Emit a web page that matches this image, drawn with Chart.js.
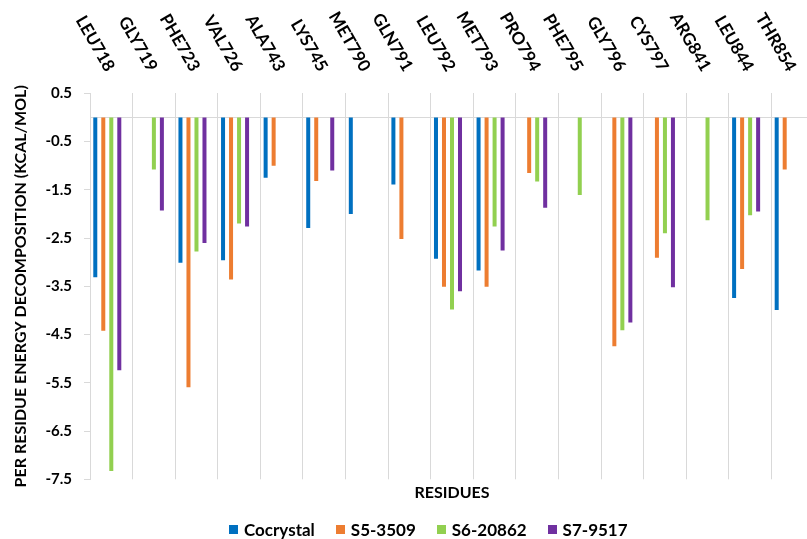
<!DOCTYPE html>
<html>
<head>
<meta charset="utf-8">
<script src="https://cdn.jsdelivr.net/npm/chart.js@4/dist/chart.umd.min.js"></script>
<style>
  html, body { margin: 0; padding: 0; background: #fff; overflow: hidden; width: 807px; height: 539px; }
  #wrap { position: relative; width: 814px; height: 539px; }
  #legend { position: absolute; left: 229px; top: 519px; display: flex; gap: 21px; align-items: center;
            font: bold 17px Lato, "Open Sans", sans-serif; color: #000; white-space: nowrap; }
  #legend .item { display: flex; align-items: center; }
  #legend .sw { width: 9px; height: 9px; margin-right: 6px; }
</style>
</head>
<body>
<div id="wrap">
  <canvas id="c" width="814" height="539"></canvas>
  <div id="legend"></div>
</div>
<script>
// Residues along the binding site
const residues = ['LEU718', 'GLY719', 'PHE723', 'VAL726', 'ALA743', 'LYS745', 'MET790', 'GLN791',
  'LEU792', 'MET793', 'PRO794', 'PHE795', 'GLY796', 'CYS797', 'ARG841', 'LEU844', 'THR854'];

// Per-residue energy contributions (kcal/mol); null = no contribution shown
const cocrystal = [-3.31, null, -3.01, -2.96, -1.25, -2.29, -2.00, -1.39, -2.93, -3.17, null, null, null, null, null, -3.74, -3.99];
const s5_3509   = [-4.42, null, -5.59, -3.36, -1.00, -1.32, null, -2.52, -3.51, -3.51, -1.15, null, -4.74, -2.91, null, -3.14, -1.08];
const s6_20862  = [-7.33, -1.08, -2.78, -2.20, null, null, null, null, -3.98, -2.26, -1.33, -1.61, -4.41, -2.40, -2.13, -2.03, null];
const s7_9517   = [-5.24, -1.93, -2.60, -2.26, null, -1.10, null, null, -3.60, -2.76, -1.87, null, -4.25, -3.52, null, -1.95, null];

const seriesNames  = ['Cocrystal', 'S5-3509', 'S6-20862', 'S7-9517'];
const seriesValues = [cocrystal, s5_3509, s6_20862, s7_9517];
const seriesColors = ['#0070C0', '#ED7D31', '#92D050', '#7030A0'];

// Value axis range
const yMin = -7.5, yMax = 0.5, yStep = 1;

const FONT = 'Lato, "Open Sans", sans-serif';
const GRID = '#d9d9d9';

const datasets = seriesNames.map((name, i) => ({
  label: name,
  data: seriesValues[i],
  backgroundColor: seriesColors[i],
  borderWidth: 0,
  categoryPercentage: 0.94,
  barPercentage: 0.5
}));
// empty fifth slot in each group (keeps the four bars left of the group centre)
datasets.push({ label: '', data: residues.map(() => null), backgroundColor: 'rgba(0,0,0,0)',
  categoryPercentage: 0.94, barPercentage: 0.5 });

// Zero line across the plot
const zeroLine = {
  id: 'zeroLine',
  beforeDatasetsDraw(chart) {
    const { ctx, chartArea, scales } = chart;
    const y = Math.round(scales.y.getPixelForValue(0)) + 0.5;
    ctx.save();
    ctx.strokeStyle = GRID;
    ctx.lineWidth = 1;
    ctx.beginPath();
    ctx.moveTo(chartArea.left, y);
    ctx.lineTo(chartArea.right, y);
    ctx.stroke();
    ctx.restore();
  }
};

// Slanted residue names above the plot
const topLabels = {
  id: 'topLabels',
  afterDraw(chart) {
    const { ctx, scales } = chart;
    ctx.save();
    ctx.fillStyle = '#000';
    ctx.font = 'bold 17px ' + FONT;
    ctx.textAlign = 'right';
    ctx.textBaseline = 'middle';
    residues.forEach((r, i) => {
      const x = scales.x.getPixelForValue(i) - 1;
      ctx.save();
      ctx.translate(x, 70);
      ctx.rotate(60 * Math.PI / 180);
      ctx.fillText(r, 0, 0);
      ctx.restore();
    });
    ctx.restore();
  }
};

new Chart(document.getElementById('c'), {
  type: 'bar',
  data: { labels: residues, datasets },
  options: {
    responsive: false,
    animation: false,
    devicePixelRatio: 1,
    layout: { padding: 0 },
    plugins: { legend: { display: false }, tooltip: { enabled: false } },
    scales: {
      x: {
        position: 'top',
        ticks: { display: false },
        border: { display: false },
        grid: { color: GRID, lineWidth: 1, drawTicks: false, offset: true },
        afterFit(s) { s.height = 93.3; }
      },
      xb: {
        type: 'category',
        position: 'bottom',
        ticks: { display: false },
        border: { display: false },
        grid: { display: false },
        title: { display: true, text: 'RESIDUES', color: '#000',
                 font: { family: FONT, size: 16, weight: 'bold' }, padding: { top: 0, bottom: 37 } },
        afterFit(s) { s.height = 539 - 479.3; }
      },
      y: {
        min: yMin,
        max: yMax,
        ticks: { stepSize: yStep, color: '#000', padding: 12,
                 font: { family: FONT, size: 15, weight: 'bold' } },
        border: { display: true, color: GRID },
        grid: { drawOnChartArea: false, drawTicks: true, tickLength: 6, tickColor: GRID },
        title: { display: true, text: 'PER RESIDUE ENERGY DECOMPOSITION (KCAL/MOL)', color: '#000',
                 font: { family: FONT, size: 16, weight: 'bold' }, padding: { top: 11, bottom: 0 } },
        afterFit(s) { s.width = 90; }
      }
    }
  },
  plugins: [zeroLine, topLabels]
});

// Legend
const legend = document.getElementById('legend');
seriesNames.forEach((name, i) => {
  const item = document.createElement('div');
  item.className = 'item';
  const sw = document.createElement('span');
  sw.className = 'sw';
  sw.style.background = seriesColors[i];
  const t = document.createElement('span');
  t.textContent = name;
  item.appendChild(sw);
  item.appendChild(t);
  legend.appendChild(item);
});
</script>
</body>
</html>
